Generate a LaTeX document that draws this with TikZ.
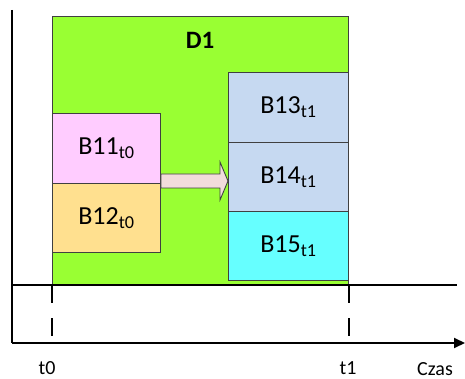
\documentclass[tikz,border=0pt]{standalone}
\usepackage{fontspec}
\setmainfont{Carlito}
\usetikzlibrary{arrows.meta}
\definecolor{dgreen}{HTML}{99FF33}
\definecolor{bpink}{HTML}{FFCCFF}
\definecolor{bsand}{HTML}{FFE08F}
\definecolor{bblue}{HTML}{C6D9F1}
\definecolor{bcyan}{HTML}{66FFFF}
\definecolor{barrow}{HTML}{F2DCDB}
\definecolor{edge}{HTML}{404040}
\tikzset{
  blockbox/.style={draw=edge, line width=0.9pt, anchor=north west, inner sep=0pt,
    font=\fontsize{26}{28}\selectfont},
  tick/.style={line width=2pt, dash pattern=on 18pt off 15pt},
  axislabel/.style={font=\fontsize{20}{22}\selectfont}
}
\begin{document}
\begin{tikzpicture}[x=1pt, y=-1pt]
  \useasboundingbox (0,0) rectangle (465,379);
  % domain D1
  \node[blockbox, fill=dgreen, minimum width=296pt, minimum height=268pt] (d1) at (52,16) {};
  \node[font=\fontsize{25}{27}\selectfont\bfseries] (d1lbl) at (200,40) {D1};
  % blocks at t0
  \node[blockbox, fill=bpink, minimum width=108pt, minimum height=70pt] (b11) at (52,113) {B11\textsubscript{t0}};
  \node[blockbox, fill=bsand, minimum width=108pt, minimum height=69pt] (b12) at (52,183) {B12\textsubscript{t0}};
  % blocks at t1
  \node[blockbox, fill=bblue, minimum width=120pt, minimum height=70pt] (b13) at (228,72) {B13\textsubscript{t1}};
  \node[blockbox, fill=bblue, minimum width=120pt, minimum height=69pt] (b14) at (228,142) {B14\textsubscript{t1}};
  \node[blockbox, fill=bcyan, minimum width=120pt, minimum height=69pt] (b15) at (228,211) {B15\textsubscript{t1}};
  % transition arrow
  \draw[draw=edge, line width=0.9pt, fill=barrow]
    (b11.east |- 0,174) -- (220,174) -- (220,162) -- (b14.west |- 0,181)
    -- (220,200) -- (220,188) -- (b11.east |- 0,188) -- cycle;
  % axes
  \coordinate (ytop) at (12,10);
  \coordinate (origin) at (12,343);
  \coordinate (xend) at (465,343);
  \coordinate (midl) at (12,285);
  \coordinate (midr) at (457,285);
  \draw[line width=2pt] (ytop) -- (origin);
  \draw[line width=2pt, -{Triangle[length=11pt, width=10pt]}] (origin) -- (xend);
  \draw[line width=1.6pt] (midl) -- (midr);
  % time marks
  \draw[tick] (d1.south west |- midl) -- (d1.south west |- origin);
  \draw[tick] (d1.south east |- midl) -- (d1.south east |- origin);
  \node[axislabel] (t0) at (47,368) {t0};
  \node[axislabel] (t1) at (348,368) {t1};
  \node[axislabel] (czas) at (435,369) {Czas};
\end{tikzpicture}
\end{document}
